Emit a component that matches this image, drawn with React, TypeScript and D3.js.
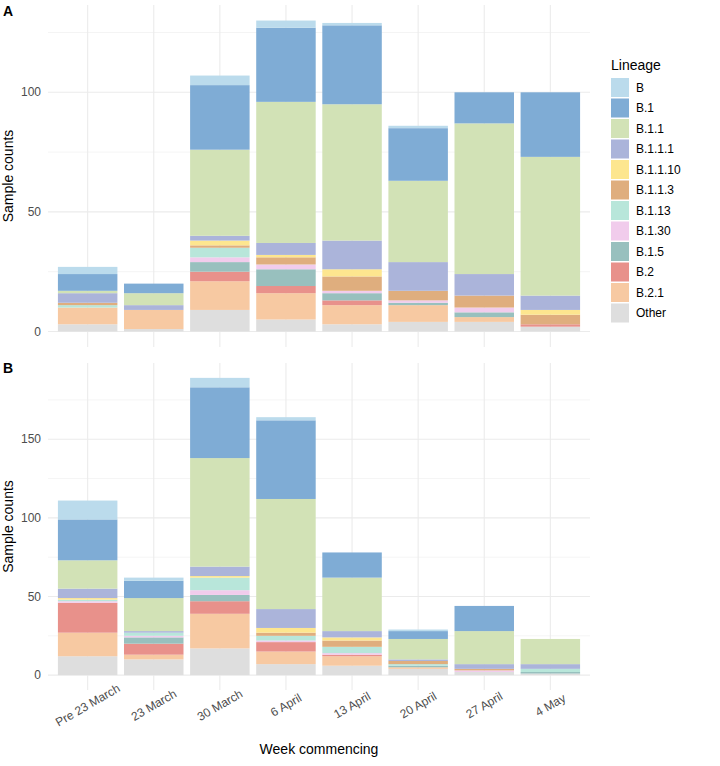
import React from "react";
import * as d3 from "d3";

const WEEKS = ["Pre 23 March", "23 March", "30 March", "6 April", "13 April", "20 April", "27 April", "4 May"];
const LINEAGES = ["B", "B.1", "B.1.1", "B.1.1.1", "B.1.1.10", "B.1.1.3", "B.1.13", "B.1.30", "B.1.5", "B.2", "B.2.1", "Other"];
const COLORS = ["#BBDBEC", "#7FACD5", "#D2E2B6", "#ABB4DA", "#FDE68F", "#DFAE7E", "#B8E6DA", "#F1CCEC", "#98C0BE", "#E8918B", "#F7C9A2", "#DEDEDE"];

// Panel A counts per lineage (week order as WEEKS)
const A_B = [3, 0, 4, 3, 1, 1, 0, 0];
const A_B1 = [7, 4, 27, 31, 33, 22, 13, 27];
const A_B11 = [1, 5, 36, 59, 57, 34, 63, 58];
const A_B111 = [4, 2, 2, 5, 12, 12, 9, 6];
const A_B1110 = [0, 0, 2, 1, 3, 0, 0, 2];
const A_B113 = [1, 0, 1, 3, 6, 4, 5, 4];
const A_B113x = [1, 0, 4, 0, 0, 0, 0, 0]; // B.1.13
const A_B130 = [0, 0, 2, 2, 1, 1, 2, 0];
const A_B15 = [0, 0, 4, 7, 3, 1, 2, 0];
const A_B2 = [0, 0, 4, 3, 2, 0, 0, 1];
const A_B21 = [7, 8, 12, 11, 8, 7, 2, 0];
const A_OTHER = [3, 1, 9, 5, 3, 4, 4, 2];

// Panel B counts per lineage
const B_B = [12, 2, 6, 2, 0, 1, 0, 0];
const B_B1 = [26, 11, 45, 50, 16, 5, 16, 0];
const B_B11 = [18, 21, 69, 70, 34, 13, 21, 16];
const B_B111 = [6, 1, 6, 12, 4, 1, 3, 3];
const B_B1110 = [1, 0, 1, 3, 2, 0, 0, 0];
const B_B113 = [0, 0, 0, 2, 4, 2, 1, 0];
const B_B113x = [1, 2, 8, 3, 4, 1, 0, 2]; // B.1.13
const B_B130 = [1, 1, 3, 1, 1, 0, 1, 0];
const B_B15 = [0, 4, 4, 0, 0, 1, 0, 1];
const B_B2 = [19, 7, 8, 6, 1, 0, 0, 0];
const B_B21 = [15, 3, 22, 8, 6, 1, 0, 0];
const B_OTHER = [12, 10, 17, 7, 6, 4, 2, 1];

const SERIES_A = [A_B, A_B1, A_B11, A_B111, A_B1110, A_B113, A_B113x, A_B130, A_B15, A_B2, A_B21, A_OTHER];
const SERIES_B = [B_B, B_B1, B_B11, B_B111, B_B1110, B_B113, B_B113x, B_B130, B_B15, B_B2, B_B21, B_OTHER];

const X0 = 48;
const X1 = 590;
const FONT = "Liberation Sans, Arial, Helvetica, sans-serif";

function Panel({ series, top, bottom, tag, tagY }: { series: number[][]; top: number; bottom: number; tag: string; tagY: number }) {
  const rows = WEEKS.map((w, i) => {
    const r: any = { week: w };
    LINEAGES.forEach((l, j) => (r[l] = series[j][i]));
    return r;
  });
  const keys = [...LINEAGES].reverse();
  const stacked = d3.stack<any>().keys(keys)(rows);
  const totals = rows.map((r) => d3.sum(LINEAGES, (l) => r[l]));
  const maxT = d3.max(totals) as number;
  const x = d3.scaleBand<string>().domain(WEEKS).range([X0, X1]).paddingInner(0.1).paddingOuter(0.15);
  const y = d3.scaleLinear().domain([-0.05 * maxT, 1.05 * maxT]).range([bottom, top]);
  const major = d3.range(0, 1.05 * maxT, 50);
  const minor = d3.range(25, 1.05 * maxT, 50);
  const cy = (top + bottom) / 2;
  return (
    <g>
      {minor.map((v) => (
        <line key={"mi" + v} x1={X0} x2={X1} y1={y(v)} y2={y(v)} stroke="#EBEBEB" strokeWidth={0.55} />
      ))}
      {major.map((v) => (
        <line key={"ma" + v} x1={X0} x2={X1} y1={y(v)} y2={y(v)} stroke="#EBEBEB" strokeWidth={1.07} />
      ))}
      {WEEKS.map((w) => (
        <line key={"v" + w} x1={(x(w) as number) + x.bandwidth() / 2} x2={(x(w) as number) + x.bandwidth() / 2} y1={top} y2={bottom} stroke="#EBEBEB" strokeWidth={1.07} />
      ))}
      {stacked.map((s) => {
        const color = COLORS[LINEAGES.indexOf(s.key)];
        return (
          <g key={s.key} fill={color}>
            {s.map((d, i) => {
              const h = y(d[0]) - y(d[1]);
              if (h <= 0) return null;
              return <rect key={i} x={x(WEEKS[i])} width={x.bandwidth()} y={y(d[1])} height={h} />;
            })}
          </g>
        );
      })}
      {major.map((v) => (
        <text key={"t" + v} x={41} y={y(v)} dy="0.35em" textAnchor="end" fontSize={12} fill="#4D4D4D" fontFamily={FONT}>
          {v}
        </text>
      ))}
      <text transform={`translate(13,${cy}) rotate(-90)`} textAnchor="middle" fontSize={14} fill="#000" fontFamily={FONT}>
        Sample counts
      </text>
      <text x={3} y={tagY} fontSize={14} fontWeight="bold" fill="#000" fontFamily={FONT}>
        {tag}
      </text>
    </g>
  );
}

export default function App() {
  const x = d3.scaleBand<string>().domain(WEEKS).range([X0, X1]).paddingInner(0.1).paddingOuter(0.15);
  return (
    <svg width={720} height={766} style={{ position: "absolute", left: 0, top: 0, background: "#fff" }}>
      <rect width={720} height={766} fill="#fff" />
      <Panel series={SERIES_A} top={5} bottom={347} tag="A" tagY={16} />
      <Panel series={SERIES_B} top={363} bottom={690} tag="B" tagY={373} />
      {WEEKS.map((w) => (
        <text
          key={w}
          transform={`translate(${(x(w) as number) + x.bandwidth() / 2},${705}) rotate(-30)`}
          textAnchor="middle"
          dy="0.35em"
          fontSize={12}
          fill="#4D4D4D"
          fontFamily={FONT}
        >
          {w}
        </text>
      ))}
      <text x={(X0 + X1) / 2} y={754} textAnchor="middle" fontSize={14} fill="#000" fontFamily={FONT}>
        Week commencing
      </text>
      <g>
        <text x={611} y={70} fontSize={14} fill="#000" fontFamily={FONT}>
          Lineage
        </text>
        {LINEAGES.map((l, i) => (
          <g key={l}>
            <rect x={611} y={78 + i * 20.5} width={18} height={19} fill={COLORS[i]} />
            <text x={636} y={78 + i * 20.5 + 9.5} dy="0.35em" fontSize={12} fill="#000" fontFamily={FONT}>
              {l}
            </text>
          </g>
        ))}
      </g>
    </svg>
  );
}
